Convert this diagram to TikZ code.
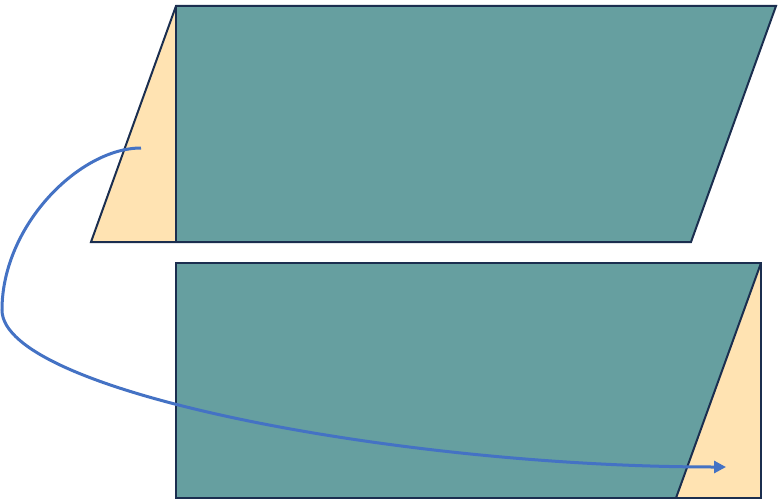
\documentclass[tikz,border=0pt]{standalone}
\usetikzlibrary{arrows.meta}
\definecolor{tealfill}{HTML}{669FA0}
\definecolor{sandfill}{HTML}{FFE3B2}
\definecolor{navyline}{HTML}{1B2E4F}
\definecolor{arrowblue}{HTML}{4472C4}
\tikzset{
  piece/.style={draw=navyline, line width=2pt, line join=miter},
  move/.style={draw=arrowblue, line width=3pt, -{Triangle[length=12pt,width=12pt]}}
}
\begin{document}
\begin{tikzpicture}[x=1pt,y=-1pt]
\useasboundingbox (0,0) rectangle (779,500);
% top parallelogram
\coordinate (tA) at (176,6);
\coordinate (tB) at (776,6);
\coordinate (tC) at (691,242);
\coordinate (tD) at (176,242);
\coordinate (tE) at (91,242);
\fill[sandfill] (tA) -- (tD) -- (tE) -- cycle;
\fill[tealfill] (tA) -- (tB) -- (tC) -- (tD) -- cycle;
\draw[piece] (tA) -- (tB) -- (tC) -- (tE) -- cycle;
\draw[piece] (tA) -- (tD);
% bottom rectangle
\coordinate (bA) at (176,263);
\coordinate (bB) at (761,263);
\coordinate (bC) at (761,498);
\coordinate (bD) at (676,498);
\coordinate (bE) at (176,498);
\fill[sandfill] (bB) -- (bC) -- (bD) -- cycle;
\fill[tealfill] (bA) -- (bB) -- (bD) -- (bE) -- cycle;
\draw[piece] (bA) -- (bB) -- (bC) -- (bE) -- cycle;
\draw[piece] (bB) -- (bD);
% arrow
\coordinate (start) at (141,148);
\coordinate (turn) at (2,310);
\coordinate (finish) at (726,467);
\draw[move] (start) .. controls (80,148) and (2,225) .. (turn)
  .. controls (2,392) and (400,467) .. (finish);
\end{tikzpicture}
\end{document}
